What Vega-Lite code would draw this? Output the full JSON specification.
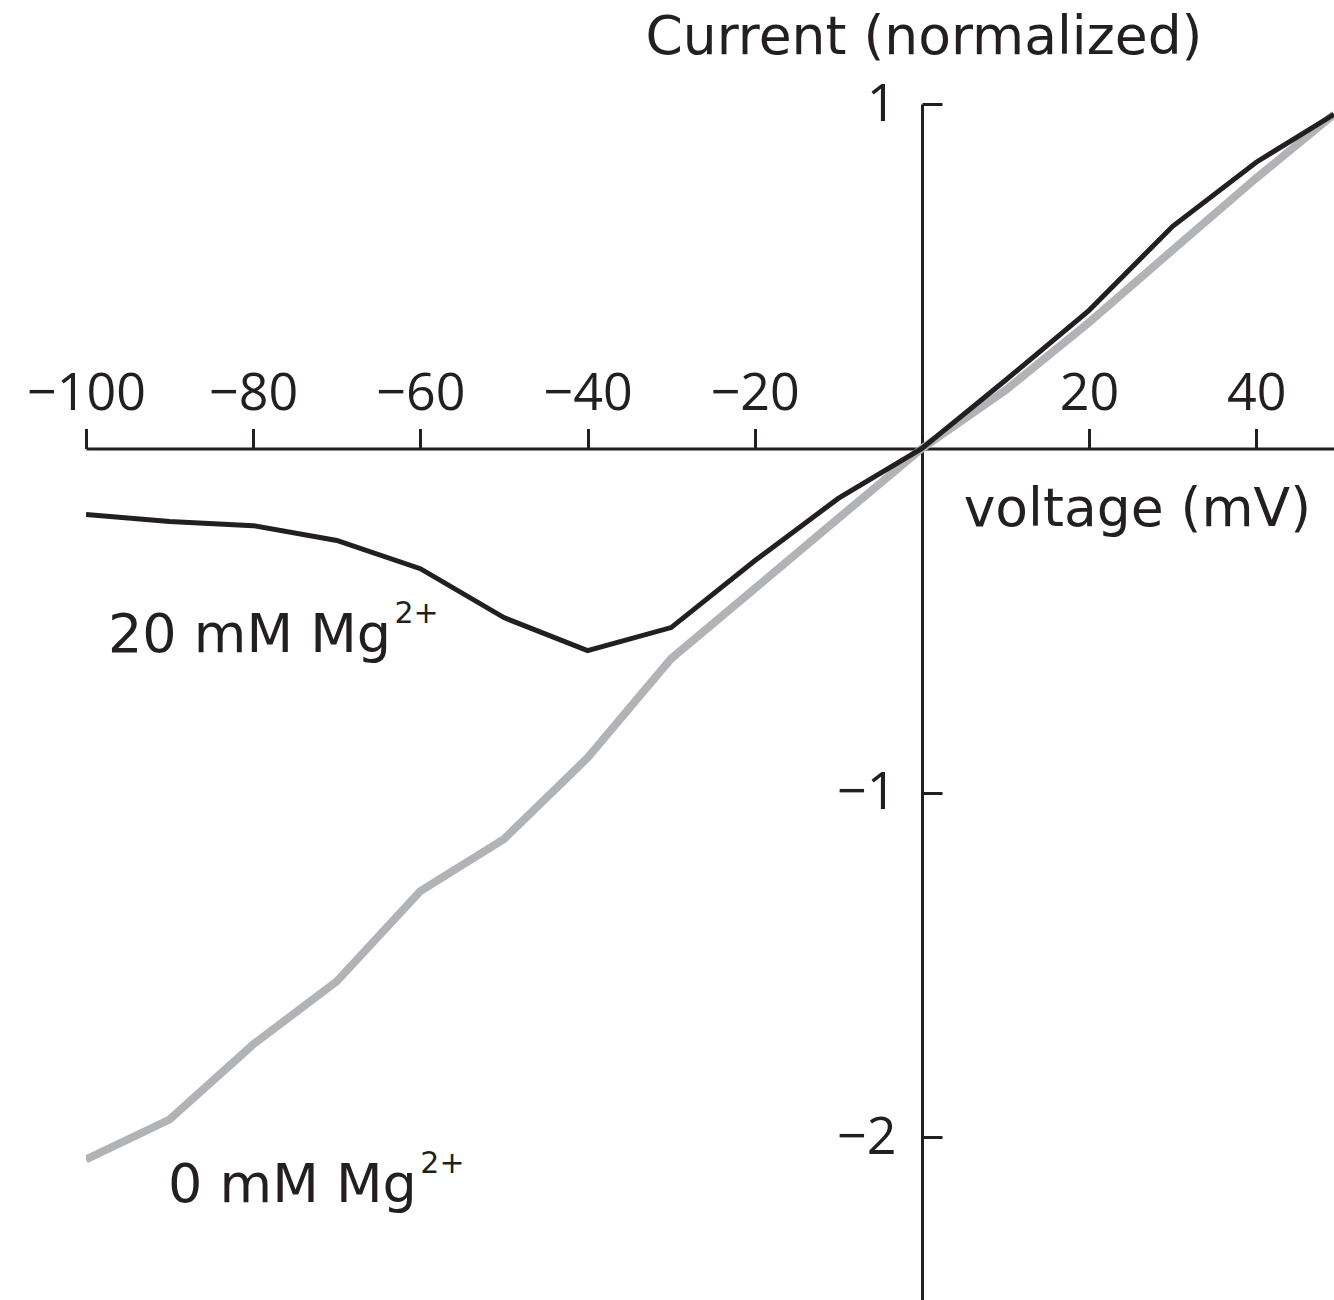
{
  "$schema": "https://vega.github.io/schema/vega-lite/v6.json",
  "width": 1248,
  "height": 1196,
  "autosize": {"type": "none"},
  "padding": {"left": 86, "top": 104, "right": 0, "bottom": 0},
  "background": "white",
  "config": {"view": {"stroke": null}},
  "datasets": {
    "curves": [
      {"mg": "0 mM", "v": -100, "i": -2.064},
      {"mg": "0 mM", "v": -90, "i": -1.948},
      {"mg": "0 mM", "v": -80, "i": -1.73},
      {"mg": "0 mM", "v": -70, "i": -1.547},
      {"mg": "0 mM", "v": -60, "i": -1.285},
      {"mg": "0 mM", "v": -50, "i": -1.134},
      {"mg": "0 mM", "v": -40, "i": -0.898},
      {"mg": "0 mM", "v": -30, "i": -0.61},
      {"mg": "0 mM", "v": -20, "i": -0.407},
      {"mg": "0 mM", "v": -10, "i": -0.203},
      {"mg": "0 mM", "v": 0, "i": 0},
      {"mg": "0 mM", "v": 10, "i": 0.169},
      {"mg": "0 mM", "v": 20, "i": 0.366},
      {"mg": "0 mM", "v": 30, "i": 0.576},
      {"mg": "0 mM", "v": 40, "i": 0.785},
      {"mg": "0 mM", "v": 49.3, "i": 0.97},
      {"mg": "20 mM", "v": -100, "i": -0.192},
      {"mg": "20 mM", "v": -90, "i": -0.212},
      {"mg": "20 mM", "v": -80, "i": -0.224},
      {"mg": "20 mM", "v": -70, "i": -0.267},
      {"mg": "20 mM", "v": -60, "i": -0.349},
      {"mg": "20 mM", "v": -50, "i": -0.491},
      {"mg": "20 mM", "v": -40, "i": -0.587},
      {"mg": "20 mM", "v": -30, "i": -0.52},
      {"mg": "20 mM", "v": -20, "i": -0.326},
      {"mg": "20 mM", "v": -10, "i": -0.145},
      {"mg": "20 mM", "v": 0, "i": 0},
      {"mg": "20 mM", "v": 10, "i": 0.198},
      {"mg": "20 mM", "v": 20, "i": 0.401},
      {"mg": "20 mM", "v": 30, "i": 0.645},
      {"mg": "20 mM", "v": 40, "i": 0.831},
      {"mg": "20 mM", "v": 49.3, "i": 0.97}
    ],
    "titles": [
      {"text": "Current (normalized)", "v": 0.25, "i": 1.1466, "kind": "center"},
      {"text": "voltage (mV)", "v": 5.0, "i": -0.225, "kind": "left"}
    ],
    "labels": [
      {"text": "20 mM Mg", "v": -97.37, "i": -0.5907},
      {"text": "0 mM Mg", "v": -90.19, "i": -2.187}
    ],
    "sups": [
      {"text": "2+", "v": -63.1, "i": -0.5065},
      {"text": "2+", "v": -60.0, "i": -2.1031}
    ]
  },
  "layer": [
    {
      "data": {"name": "curves"},
      "transform": [{"filter": "datum.mg === '0 mM'"}],
      "mark": {"type": "line", "color": "#b1b3b6", "strokeWidth": 8, "clip": true},
      "encoding": {
        "x": {
          "field": "v", "type": "quantitative",
          "scale": {"domain": [-100, 49.3], "nice": false, "zero": false},
          "axis": {
            "orient": "top", "offset": -344.5,
            "values": [-100, -80, -60, -40, -20, 20, 40],
            "title": null, "grid": false,
            "domainColor": "#231f20", "domainWidth": 3,
            "tickColor": "#231f20", "tickWidth": 3, "tickSize": 20,
            "labelFont": "Open Sans", "labelFontSize": 52, "labelColor": "#231f20",
            "labelPadding": 8, "labelFlush": false, "labelOverlap": false
          }
        },
        "y": {
          "field": "i", "type": "quantitative",
          "scale": {"domain": [-2.472, 1], "nice": false, "zero": false},
          "axis": {
            "orient": "left", "offset": -836,
            "values": [1, -1, -2], "format": "d",
            "title": null, "grid": false,
            "domainColor": "#231f20", "domainWidth": 3,
            "tickColor": "#231f20", "tickWidth": 3, "tickSize": -20,
            "labelFont": "Open Sans", "labelFontSize": 52, "labelColor": "#231f20",
            "labelPadding": 46, "labelFlush": false, "labelOverlap": false
          }
        }
      }
    },
    {
      "data": {"name": "curves"},
      "transform": [{"filter": "datum.mg === '20 mM'"}],
      "mark": {"type": "line", "color": "#231f20", "strokeWidth": 5, "clip": true},
      "encoding": {
        "x": {"field": "v", "type": "quantitative"},
        "y": {"field": "i", "type": "quantitative"}
      }
    },
    {
      "data": {"name": "titles"},
      "transform": [{"filter": "datum.kind === 'center'"}],
      "mark": {"type": "text", "font": "DejaVu Sans", "fontSize": 53.5, "color": "#231f20", "baseline": "alphabetic", "align": "center"},
      "encoding": {
        "x": {"field": "v", "type": "quantitative"},
        "y": {"field": "i", "type": "quantitative"},
        "text": {"field": "text"}
      }
    },
    {
      "data": {"name": "titles"},
      "transform": [{"filter": "datum.kind === 'left'"}],
      "mark": {"type": "text", "font": "DejaVu Sans", "fontSize": 53.5, "color": "#231f20", "baseline": "alphabetic", "align": "left"},
      "encoding": {
        "x": {"field": "v", "type": "quantitative"},
        "y": {"field": "i", "type": "quantitative"},
        "text": {"field": "text"}
      }
    },
    {
      "data": {"name": "labels"},
      "mark": {"type": "text", "font": "DejaVu Sans", "fontSize": 54, "color": "#231f20", "baseline": "alphabetic", "align": "left"},
      "encoding": {
        "x": {"field": "v", "type": "quantitative"},
        "y": {"field": "i", "type": "quantitative"},
        "text": {"field": "text"}
      }
    },
    {
      "data": {"name": "sups"},
      "mark": {"type": "text", "font": "DejaVu Sans", "fontSize": 30, "color": "#231f20", "baseline": "alphabetic", "align": "left"},
      "encoding": {
        "x": {"field": "v", "type": "quantitative"},
        "y": {"field": "i", "type": "quantitative"},
        "text": {"field": "text"}
      }
    }
  ]
}
